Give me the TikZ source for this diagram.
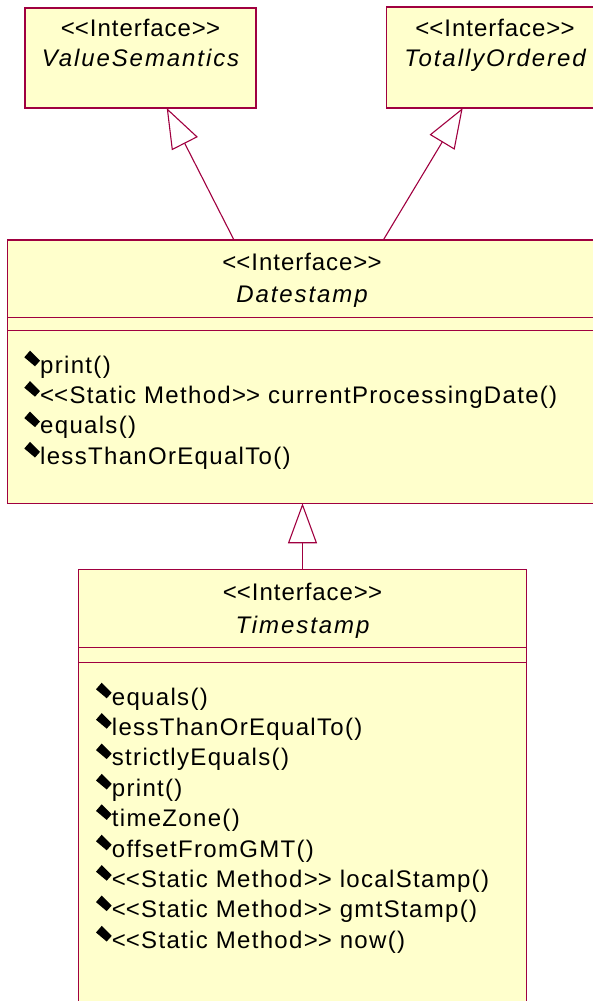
\documentclass[tikz,border=0pt]{standalone}
\usepackage{fontspec}
\setmainfont{Liberation Sans}[LetterSpace=4]
\newfontfamily\namefont{Liberation Sans}[LetterSpace=8]
\newfontfamily\methfont{Liberation Sans}[LetterSpace=5.5]
\usetikzlibrary{arrows.meta}
\definecolor{umlline}{RGB}{160,0,64}
\definecolor{umlfill}{RGB}{255,255,204}
\newcommand\dlt{<\kern0pt<}
\newcommand\dgt{>\kern0pt>}
\tikzset{
  umlbox/.style={draw=umlline, fill=umlfill, line width=1.1pt, anchor=north west, inner sep=0pt, outer sep=0pt},
  stereo/.style={anchor=base, inner sep=0pt, font=\fontsize{24}{30}\selectfont},
  cname/.style={anchor=base, inner sep=0pt, font=\fontsize{24}{30}\selectfont\namefont\itshape},
  meth/.style={anchor=base west, inner sep=0pt, font=\fontsize{24}{30}\selectfont\methfont},
  gen/.style={draw=umlline, line width=1.1pt, -{Triangle[open, length=40pt, width=29pt, fill=white]}},
  sep/.style={draw=umlline, line width=1pt}
}
\newcommand\mbul[1]{\fill[black] (#1.base west) ++(-15.7,-15.7) -- ++(5.7,-6.6) -- ++(10,10) -- ++(-5,5.6) -- cycle;}
\begin{document}
\begin{tikzpicture}[x=1pt, y=-1pt]
\useasboundingbox (0,0) rectangle (593,1001);
\clip (0,0) rectangle (593,1001);
% boxes
\node[umlbox, minimum width=231pt, minimum height=100pt] (vs) at (25,8) {};
\node[umlbox, minimum width=216pt, minimum height=101pt] (to) at (386.7,7) {};
\node[umlbox, minimum width=590pt, minimum height=263.3pt] (ds) at (7.3,240) {};
\node[umlbox, minimum width=448.4pt, minimum height=450pt] (ts) at (78.3,569.3) {};
% compartments
\draw[sep] ([yshift=-77.3pt]ds.north west) -- ([yshift=-77.3pt]ds.north east);
\draw[sep] ([yshift=-90.7pt]ds.north west) -- ([yshift=-90.7pt]ds.north east);
\draw[sep] ([yshift=-77.7pt]ts.north west) -- ([yshift=-77.7pt]ts.north east);
\draw[sep] ([yshift=-93.4pt]ts.north west) -- ([yshift=-93.4pt]ts.north east);
% titles
\node[stereo] (vs1) at (140.5,36.7) {\dlt Interface\dgt};
\node[cname] (vs2) at (140.5,66.7) {ValueSemantics};
\node[stereo] (to1) at (495,36.7) {\dlt Interface\dgt};
\node[cname] (to2) at (495,66.7) {TotallyOrdered};
\node[stereo] (ds1) at (302,270) {\dlt Interface\dgt};
\node[cname] (ds2) at (302,302) {Datestamp};
\node[stereo] (ts1) at (302.5,600) {\dlt Interface\dgt};
\node[cname] (ts2) at (302.5,633) {Timestamp};
% Datestamp methods
\node[meth] (d1) at (40,373) {print()};
\node[meth] (d2) at (40,403.4) {\dlt Static Method\dgt{} currentProcessingDate()};
\node[meth] (d3) at (40,433.8) {equals()};
\node[meth] (d4) at (40,464.2) {lessThanOrEqualTo()};
\mbul{d1}\mbul{d2}\mbul{d3}\mbul{d4}
% Timestamp methods
\node[meth] (t1) at (111.7,705) {equals()};
\node[meth] (t2) at (111.7,735.4) {lessThanOrEqualTo()};
\node[meth] (t3) at (111.7,765.8) {strictlyEquals()};
\node[meth] (t4) at (111.7,796.2) {print()};
\node[meth] (t5) at (111.7,826.6) {timeZone()};
\node[meth] (t6) at (111.7,857) {offsetFromGMT()};
\node[meth] (t7) at (111.7,887.4) {\dlt Static Method\dgt{} localStamp()};
\node[meth] (t8) at (111.7,917.8) {\dlt Static Method\dgt{} gmtStamp()};
\node[meth] (t9) at (111.7,948.2) {\dlt Static Method\dgt{} now()};
\mbul{t1}\mbul{t2}\mbul{t3}\mbul{t4}\mbul{t5}\mbul{t6}\mbul{t7}\mbul{t8}\mbul{t9}
% generalizations
\draw[gen] ([xshift=226.7pt]ds.north west) -- ([xshift=141.7pt]vs.south west);
\draw[gen] ([xshift=376pt]ds.north west) -- ([xshift=76pt]to.south west);
\draw[gen] (ts.north) -- (ts.north |- ds.south);
\end{tikzpicture}
\end{document}
